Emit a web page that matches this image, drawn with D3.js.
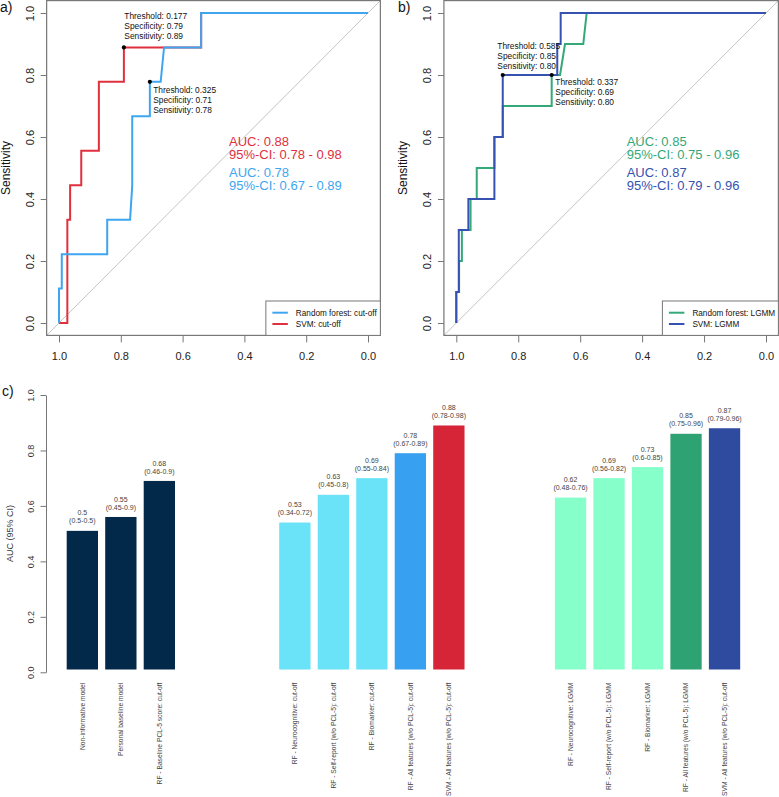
<!DOCTYPE html>
<html><head><meta charset="utf-8">
<script src="https://cdn.jsdelivr.net/npm/d3@7"></script>
<style>
html,body{margin:0;padding:0;background:#fff;}
svg{display:block;font-family:"Liberation Sans",Arial,Helvetica,sans-serif;}
</style></head>
<body>
<svg id="chart" width="779" height="797"></svg>
<script>
// ---------- DATA ----------
// Panel a: ROC curves, cut-off outcome
const rocA_rf_spec  = [1,1,0.991,0.991,0.844,0.844,0.770,0.763,0.763,0.706,0.706,0.671,0.660,0.540,0.540,0];
const rocA_rf_sens  = [0,0.111,0.111,0.222,0.222,0.333,0.333,0.444,0.667,0.667,0.778,0.778,0.889,0.889,1,1];
const rocA_svm_spec = [1,0.973,0.973,0.964,0.964,0.928,0.928,0.871,0.871,0.790,0.790,0.660,0.540,0.540,0];
const rocA_svm_sens = [0,0,0.333,0.333,0.444,0.444,0.556,0.556,0.778,0.778,0.889,0.889,0.889,1,1];
// Panel b: ROC curves, LGMM outcome
const rocB_rf_spec  = [1,1,0.991,0.991,0.982,0.982,0.954,0.954,0.934,0.934,0.877,0.877,0.850,0.850,0.692,0.692,0.665,0.649,0.590,0.579,0];
const rocB_rf_sens  = [0,0.1,0.1,0.2,0.2,0.3,0.3,0.4,0.4,0.5,0.5,0.6,0.6,0.7,0.7,0.8,0.8,0.9,0.9,1,1];
const rocB_svm_spec = [1,1,0.992,0.992,0.961,0.961,0.877,0.877,0.850,0.850,0.674,0.674,0.663,0.663,0];
const rocB_svm_sens = [0,0.1,0.1,0.3,0.3,0.4,0.4,0.6,0.6,0.8,0.8,0.9,0.9,1,1];

const thrA = [ {thr:"0.177", spec:0.790, sens:0.889, specLab:"0.79", sensLab:"0.89"},
               {thr:"0.325", spec:0.706, sens:0.778, specLab:"0.71", sensLab:"0.78"} ];
const thrB = [ {thr:"0.585", spec:0.850, sens:0.8, specLab:"0.85", sensLab:"0.80"},
               {thr:"0.337", spec:0.692, sens:0.8, specLab:"0.69", sensLab:"0.80"} ];

const aucA = [ {auc:"0.88", ci:"0.78 - 0.98"}, {auc:"0.78", ci:"0.67 - 0.89"} ];
const aucB = [ {auc:"0.85", ci:"0.75 - 0.96"}, {auc:"0.87", ci:"0.79 - 0.96"} ];
const legendA = ["Random forest: cut-off", "SVM: cut-off"];
const legendB = ["Random forest: LGMM", "SVM: LGMM"];

const rocTicks = [1.0,0.8,0.6,0.4,0.2,0.0];

// Panel c: bar chart
const barCategories = [
  "Non-informative model",
  "Personal baseline model",
  "RF - Baseline PCL-5 score: cut-off",
  "RF - Neurocognitive: cut-off",
  "RF - Self-report (w/o PCL-5): cut-off",
  "RF - Biomarker: cut-off",
  "RF - All features (w/o PCL-5): cut-off",
  "SVM - All features (w/o PCL-5): cut-off",
  "RF - Neurocognitive: LGMM",
  "RF - Self-report (w/o PCL-5): LGMM",
  "RF - Biomarker: LGMM",
  "RF - All features (w/o PCL-5): LGMM",
  "SVM - All features (w/o PCL-5): cut-off"
];
const barGroup = [0,0,0,1,1,1,1,1,2,2,2,2,2];
const barAUC = [0.5,0.55,0.68,0.53,0.63,0.69,0.78,0.88,0.62,0.69,0.73,0.85,0.87];
const barAUCLabel = ["0.5","0.55","0.68","0.53","0.63","0.69","0.78","0.88","0.62","0.69","0.73","0.85","0.87"];
const barCI = ["0.5-0.5","0.45-0.9","0.46-0.9","0.34-0.72","0.45-0.8","0.55-0.84","0.67-0.89","0.78-0.98","0.48-0.76","0.56-0.82","0.6-0.85","0.75-0.96","0.79-0.96"];
const barTicks = [0,0.2,0.4,0.6,0.8,1.0];

// ---------- STYLE ----------
const colRF_cut = "#3ea6f0", colSVM_cut = "#e0303e";
const colRF_lgmm = "#34a878", colSVM_lgmm = "#3552b0";
const barColors = ["#02284a","#02284a","#02284a","#6ae2f8","#6ae2f8","#6ae2f8","#38a0f0","#d52536","#86ffcb","#86ffcb","#86ffcb","#2fa273","#2f4b9f"];
const axisCol = "#777";

const svg = d3.select("#chart");

// ---------- ROC PANELS ----------
function rocPanel(opt){
  const g = svg.append("g");
  const x = d3.scaleLinear().domain([1,0]).range([opt.x0, opt.x1]);
  const y = d3.scaleLinear().domain([0,1]).range([323,13]);
  const bx0 = x(1.04), bx1 = x(-0.04), by0 = y(1.04), by1 = y(-0.04);
  const clipId = "clip"+opt.id;
  svg.append("clipPath").attr("id", clipId).append("rect")
     .attr("x",bx0).attr("y",by0).attr("width",bx1-bx0).attr("height",by1-by0);

  // diagonal
  g.append("line").attr("clip-path","url(#"+clipId+")")
   .attr("x1",x(1.04)).attr("y1",y(-0.04)).attr("x2",x(-0.04)).attr("y2",y(1.04))
   .attr("stroke","#c4c4c4").attr("stroke-width",1);

  // axes
  const xa = g.append("g").attr("transform","translate(0,"+by1+")")
    .call(d3.axisBottom(x).tickValues(rocTicks).tickFormat(d3.format(".1f")).tickSize(7).tickPadding(10));
  xa.select(".domain").remove();
  xa.selectAll("line").attr("stroke",axisCol);
  xa.selectAll("text").attr("font-size",11).attr("fill","#222").attr("font-family","inherit");
  const ya = g.append("g").attr("transform","translate("+bx0+",0)")
    .call(d3.axisLeft(y).tickValues(rocTicks).tickFormat(d3.format(".1f")).tickSize(6));
  ya.select(".domain").remove();
  ya.selectAll("line").attr("stroke",axisCol);
  ya.selectAll("text").attr("font-size",11).attr("fill","#222").attr("font-family","inherit")
    .attr("text-anchor","middle").attr("x",null).attr("dy",null)
    .attr("transform","translate(-13,0) rotate(-90)");

  // box
  g.append("rect").attr("x",bx0).attr("y",by0).attr("width",bx1-bx0).attr("height",by1-by0)
   .attr("fill","none").attr("stroke",axisCol).attr("stroke-width",1.2);

  // curves
  const line = d3.line().x(d=>x(d[0])).y(d=>y(d[1]));
  opt.curves.forEach(c=>{
    const pts = c.spec.map((s,i)=>[s,c.sens[i]]);
    g.append("path").attr("d",line(pts)).attr("fill","none")
     .attr("stroke",c.color).attr("stroke-width",2).attr("stroke-linejoin","miter");
  });

  // threshold points and text
  opt.thr.forEach((t,i)=>{
    g.append("circle").attr("cx",x(t.spec)).attr("cy",y(t.sens)).attr("r",2.1).attr("fill","#000");
    const tx = opt.thrText[i];
    const lines = ["Threshold: "+t.thr, "Specificity: "+t.specLab, "Sensitivity: "+t.sensLab];
    lines.forEach((s,k)=>{
      g.append("text").attr("x",tx[0]).attr("y",tx[1]+k*10).attr("font-size",8.4).attr("fill","#111").text(s);
    });
  });

  // AUC text
  opt.auc.forEach((a,i)=>{
    g.append("text").attr("x",opt.aucX).attr("y",145.7+i*31).attr("font-size",13).attr("fill",opt.aucCols[i]).text("AUC: "+a.auc);
    g.append("text").attr("x",opt.aucX).attr("y",159.3+i*31).attr("font-size",13).attr("fill",opt.aucCols[i]).text("95%-CI: "+a.ci);
  });

  // legend
  const lw = opt.legW;
  g.append("rect").attr("x",bx1-lw).attr("y",301).attr("width",lw).attr("height",by1-301)
   .attr("fill","#fff").attr("stroke",axisCol).attr("stroke-width",1);
  opt.legend.forEach((s,i)=>{
    const ly = 312.7 + i*11.3;
    g.append("line").attr("x1",bx1-lw+6.5).attr("x2",bx1-lw+22).attr("y1",ly).attr("y2",ly)
     .attr("stroke",opt.aucCols[opt.legendColIdx[i]]).attr("stroke-width",2);
    g.append("text").attr("x",bx1-lw+30).attr("y",ly+3).attr("font-size",8.2).attr("fill","#111").text(s);
  });

  // axis title
  g.append("text").attr("transform","translate("+opt.ylabX+","+((by0+by1)/2)+") rotate(-90)")
   .attr("text-anchor","middle").attr("font-size",12).attr("fill","#111").text("Sensitivity");
  // panel label
  g.append("text").attr("x",opt.labX).attr("y",12).attr("font-size",14).attr("fill","#111").text(opt.label);
}

rocPanel({id:"a", x0:59, x1:368, label:"a)", labX:0, ylabX:10,
  curves:[{spec:rocA_svm_spec, sens:rocA_svm_sens, color:colSVM_cut},
          {spec:rocA_rf_spec, sens:rocA_rf_sens, color:colRF_cut}],
  thr:thrA, thrText:[[124.3,19.3],[153.2,93.3]],
  auc:aucA, aucX:229, aucCols:[colSVM_cut, colRF_cut],
  legend:legendA, legendColIdx:[1,0], legW:114.5});

rocPanel({id:"b", x0:456.3, x1:766, label:"b)", labX:398, ylabX:407,
  curves:[{spec:rocB_rf_spec, sens:rocB_rf_sens, color:colRF_lgmm},
          {spec:rocB_svm_spec, sens:rocB_svm_sens, color:colSVM_lgmm}],
  thr:thrB, thrText:[[497.3,49.3],[555.3,84.7]],
  auc:aucB, aucX:626.7, aucCols:[colRF_lgmm, colSVM_lgmm],
  legend:legendB, legendColIdx:[0,1], legW:116});

// ---------- BAR PANEL ----------
(function(){
  const g = svg.append("g");
  const groupOffset = [0, 2.52, 4.68];
  const slot = barCategories.map((c,i)=> i + groupOffset[barGroup[i]]);
  const x = d3.scaleLinear().domain([0,1]).range([66.7, 66.7+38.5]);
  const bw = 31.3;
  const y = d3.scaleLinear().domain([0,1]).range([672.3, 395]);

  // axis
  const ya = g.append("g").attr("transform","translate(46,0)")
    .call(d3.axisLeft(y).tickValues(barTicks).tickFormat(d3.format(".1f")).tickSize(5.5).tickSizeOuter(0));
  ya.select(".domain").attr("stroke",axisCol);
  ya.selectAll("line").attr("stroke",axisCol);
  ya.selectAll("text").attr("font-size",9).attr("fill","#333").attr("font-family","inherit")
    .attr("text-anchor","middle").attr("x",null).attr("dy",null)
    .attr("transform","translate(-12,0) rotate(-90)");

  const bars = g.append("g").attr("transform","translate(0,-2.8)");
  barCategories.forEach((c,i)=>{
    const x0 = x(slot[i]);
    bars.append("rect").attr("x",x0).attr("y",y(barAUC[i])).attr("width",bw)
      .attr("height",y(0)-y(barAUC[i])).attr("fill",barColors[i]);
    bars.append("text").attr("x",x0+bw/2).attr("y",y(barAUC[i])-15.4).attr("text-anchor","middle")
      .attr("font-size",7).attr("fill","#444").text(barAUCLabel[i]);
    bars.append("text").attr("x",x0+bw/2).attr("y",y(barAUC[i])-7.4).attr("text-anchor","middle")
      .attr("font-size",7).attr("fill","#444").text("("+barCI[i]+")");
    g.append("text").attr("transform","translate("+(x0+bw/2)+",682.7) rotate(-90)")
      .attr("text-anchor","end").attr("dy","0.35em").attr("font-size",6.7).attr("fill","#444").text(c);
  });

  g.append("text").attr("transform","translate(13,533.5) rotate(-90)").attr("text-anchor","middle")
   .attr("font-size",9).attr("fill","#333").text("AUC (95% CI)");
  g.append("text").attr("x",2).attr("y",396).attr("font-size",14).attr("fill","#111").text("c)");
})();
</script>
</body></html>
